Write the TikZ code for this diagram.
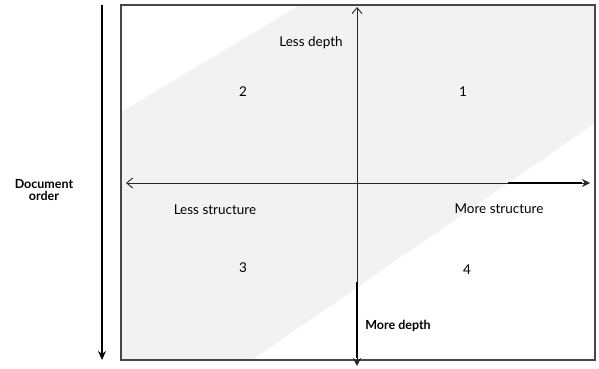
\documentclass[tikz,border=0pt]{standalone}
\usepackage{fontspec}
\setmainfont{Lato}
\usetikzlibrary{arrows.meta}

\tikzset{
  quadtext/.style={font=\fontsize{13.5}{15}\selectfont},
  boldtext/.style={font=\fontsize{12.5}{13}\bfseries\selectfont,align=center},
  axisline/.style={black!85,line width=0.9pt},
}

\begin{document}
\begin{tikzpicture}[x=1pt,y=-1pt]
  \useasboundingbox (0,0) rectangle (599,369);
  % shaded diagonal band, white corners left over
  \fill[gray!10] (121,112) -- (121,360) -- (252,360) -- (595,123) -- (595,5) -- (300,5) -- cycle;
  \draw[black!72,line width=2.6pt] (121,5) rectangle (595,360);

  \coordinate (ordtop) at (102,5);
  \coordinate (ordbot) at (102,360);
  \draw[-{Stealth[length=9pt,width=8pt]},line width=2.8pt] (ordtop) -- (ordbot);
  \node[boldtext] (order) at (44,190) {Document\\[-1pt]order};

  \coordinate (west) at (126,183);
  \coordinate (east) at (590,183);
  \coordinate (north) at (357,7);
  \coordinate (south) at (357,366);
  \draw[axisline,{Straight Barb[length=6pt,width=10pt]}-{Stealth[length=8pt,width=8pt]}] (west) -- (east);
  \draw[line width=2.4pt] (508,183) -- (582,183);
  \draw[axisline,{Straight Barb[length=6pt,width=10pt]}-{Stealth[length=8pt,width=8pt]}] (north) -- (south);
  \draw[line width=2.2pt] (357,282) -- (357,358);

  \node[quadtext] (lessdepth) at (311,43) {Less depth};
  \node[boldtext] (moredepth) at (398,326) {More depth};
  \node[quadtext] (lessstr) at (215,210) {Less structure};
  \node[quadtext] (morestr) at (499,209) {More structure};

  \node[quadtext] (q2) at (243,92) {2};
  \node[quadtext] (q1) at (463,92) {1};
  \node[quadtext] (q3) at (243,268) {3};
  \node[quadtext] (q4) at (467,270) {4};
\end{tikzpicture}
\end{document}
